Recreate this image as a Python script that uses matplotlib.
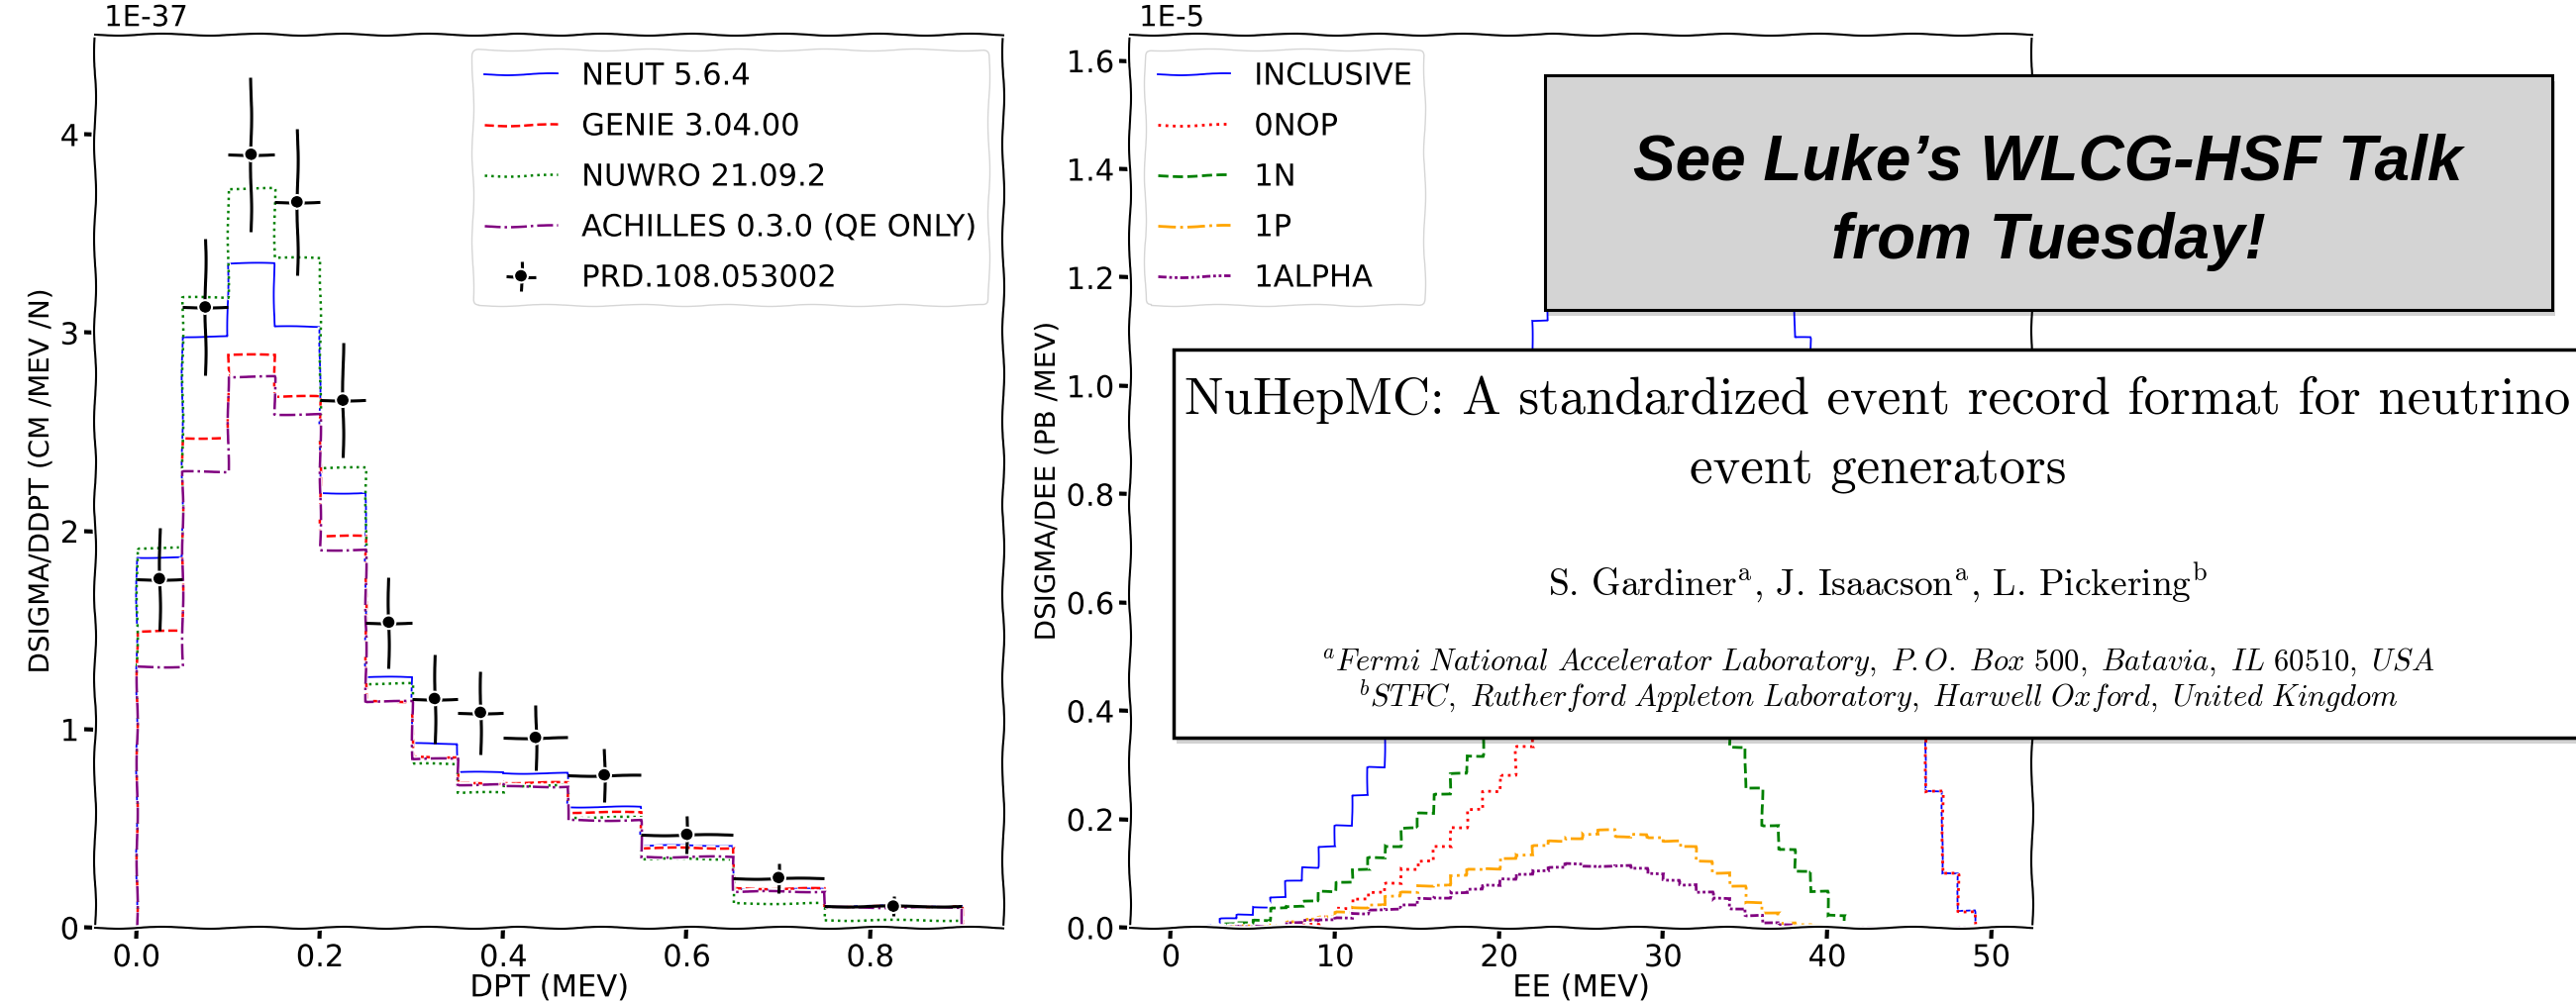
import numpy as np
import matplotlib
matplotlib.use("Agg")
import matplotlib.pyplot as plt
from matplotlib.patches import Rectangle

# ---------------- left panel: dpT ----------------
dpt_edges = [0.0, 0.05, 0.10, 0.15, 0.20, 0.25, 0.30, 0.35, 0.40, 0.47, 0.55, 0.65, 0.75, 0.90]
neut = [1.87, 2.98, 3.35, 3.03, 2.19, 1.263, 0.93, 0.784, 0.777, 0.61, 0.412, 0.196, 0.108]
genie = [1.50, 2.47, 2.89, 2.68, 1.98, 1.146, 0.864, 0.73, 0.735, 0.585, 0.404, 0.20, 0.108]
nuwro = [1.92, 3.18, 3.73, 3.38, 2.32, 1.233, 0.83, 0.686, 0.72, 0.56, 0.349, 0.125, 0.038]
achilles = [1.32, 2.30, 2.78, 2.59, 1.91, 1.146, 0.855, 0.725, 0.715, 0.543, 0.362, 0.183, 0.105]
data_y = [1.76, 3.13, 3.90, 3.66, 2.66, 1.54, 1.155, 1.085, 0.959, 0.77, 0.47, 0.252, 0.108]
data_err = [0.26, 0.345, 0.39, 0.37, 0.29, 0.23, 0.225, 0.21, 0.165, 0.135, 0.095, 0.075, 0.05]
left_labels = ["NEUT 5.6.4", "GENIE 3.04.00", "NUWRO 21.09.2",
               "ACHILLES 0.3.0 (QE ONLY)", "PRD.108.053002"]

# ---------------- right panel: Ee, 1 MeV bins from 0 to 50 ----------------
ee_edges = np.arange(0, 51)
inclusive = [0, 0, 0.005, 0.016, 0.024, 0.038, 0.057, 0.086, 0.112, 0.150,
             0.188, 0.244, 0.296, 0.36, 0.43, 0.50, 0.57, 0.67, 0.76, 0.86,
             0.97, 1.04, 1.12, 1.26, 1.35, 1.41, 1.48, 1.52, 1.55, 1.56,
             1.57, 1.50, 1.46, 1.42, 1.36, 1.30, 1.22, 1.16, 1.09, 1.03,
             0.96, 0.90, 0.89, 0.83, 0.73, 0.56, 0.252, 0.101, 0.0315, 0]
onop = [0, 0, 0, 0, 0, 0, 0, 0.003, 0.008, 0.020,
        0.037, 0.054, 0.066, 0.083, 0.110, 0.124, 0.150, 0.186, 0.220, 0.252,
        0.283, 0.334, 0.39, 0.44, 0.49, 0.54, 0.59, 0.64, 0.69, 0.74,
        0.79, 0.83, 0.87, 0.90, 0.92, 0.93, 0.94, 0.94, 0.93, 0.93,
        0.92, 0.90, 0.87, 0.82, 0.72, 0.55, 0.252, 0.101, 0.0315, 0]
one_n = [0, 0, 0.003, 0.008, 0.009, 0.015, 0.038, 0.040, 0.050, 0.068,
         0.085, 0.107, 0.130, 0.152, 0.185, 0.212, 0.248, 0.286, 0.318, 0.36,
         0.40, 0.43, 0.46, 0.49, 0.51, 0.52, 0.53, 0.53, 0.52, 0.50,
         0.48, 0.45, 0.42, 0.38, 0.334, 0.257, 0.19, 0.145, 0.106, 0.068,
         0.0235, 0, 0, 0, 0, 0, 0, 0, 0, 0]
one_p = [0, 0, 0.001, 0.002, 0.003, 0.004, 0.006, 0.012, 0.016, 0.021,
         0.030, 0.038, 0.043, 0.058, 0.066, 0.079, 0.081, 0.097, 0.108, 0.110,
         0.129, 0.136, 0.152, 0.160, 0.167, 0.174, 0.181, 0.168, 0.174, 0.168,
         0.161, 0.149, 0.125, 0.103, 0.076, 0.048, 0.029, 0.009, 0.005, 0.004,
         0, 0, 0, 0, 0, 0, 0, 0, 0, 0]
one_alpha = [0, 0, 0.001, 0.002, 0.002, 0.003, 0.004, 0.011, 0.014, 0.015,
             0.019, 0.028, 0.034, 0.035, 0.042, 0.055, 0.057, 0.066, 0.072, 0.078,
             0.092, 0.101, 0.106, 0.112, 0.119, 0.115, 0.116, 0.115, 0.110, 0.100,
             0.090, 0.080, 0.066, 0.054, 0.037, 0.023, 0.009, 0.005, 0, 0,
             0, 0, 0, 0, 0, 0, 0, 0, 0, 0]
right_labels = ["INCLUSIVE", "0NOP", "1N", "1P", "1ALPHA"]

# ---------------- overlay slide text ----------------
banner_lines = ["See Luke\u2019s WLCG-HSF Talk", "from Tuesday!"]
paper_title = ["NuHepMC: A standardized event record format for neutrino", "event generators"]
paper_authors = r"S. Gardiner$^{\rm a}$, J. Isaacson$^{\rm a}$, L. Pickering$^{\rm b}$"
paper_affils = [
    r"$^{a}\mathit{Fermi\ National\ Accelerator\ Laboratory,\ P.O.\ Box\ 500,\ Batavia,\ IL\ 60510,\ USA}$",
    r"$^{b}\mathit{STFC,\ Rutherford\ Appleton\ Laboratory,\ Harwell\ Oxford,\ United\ Kingdom}$",
]

W, H = 2601, 1014
soft = (0.6, 100, 2)  # gentler wiggle for the data lines

with plt.xkcd():
    plt.rcParams['font.family'] = ['DejaVu Sans']
    plt.rcParams['mathtext.fontset'] = 'cm'
    fig = plt.figure(figsize=(W / 100, H / 100), dpi=100)

    # ---- left
    ax1 = fig.add_axes([96 / W, 77 / H, 917 / W, 902 / H])
    hists = [
        ax1.stairs(neut, dpt_edges, color='blue', lw=1.3, label=left_labels[0]),
        ax1.stairs(genie, dpt_edges, color='red', ls='--', lw=1.8, label=left_labels[1]),
        ax1.stairs(nuwro, dpt_edges, color='green', ls=':', lw=1.8, label=left_labels[2]),
        ax1.stairs(achilles, dpt_edges, color='purple', ls='-.', lw=1.8, label=left_labels[3]),
    ]
    e = np.array(dpt_edges)
    eb = ax1.errorbar(0.5 * (e[:-1] + e[1:]), data_y, xerr=0.5 * np.diff(e), yerr=data_err,
                      fmt='o', color='black', ms=7, lw=2.2, capsize=0, label=left_labels[4])
    hists += list(eb[2])
    ax1.set_xlabel("DPT (MEV)", fontsize=22, labelpad=1)
    ax1.set_ylabel("DSIGMA/DDPT (CM /MEV /N)", fontsize=20)
    ax1.tick_params(labelsize=22)
    ax1.text(0.01, 1.003, "1E-37", transform=ax1.transAxes, fontsize=21, va='bottom')
    ax1.legend(loc='upper right', fontsize=22, handlelength=2.4, labelspacing=0.72)

    # ---- right
    ax2 = fig.add_axes([1141 / W, 77 / H, 911 / W, 902 / H])
    hists += [
        ax2.stairs(inclusive, ee_edges, color='blue', lw=1.3, label=right_labels[0]),
        ax2.stairs(onop, ee_edges, color='red', ls=':', lw=2, label=right_labels[1]),
        ax2.stairs(one_n, ee_edges, color='green', ls='--', lw=2, label=right_labels[2]),
        ax2.stairs(one_p, ee_edges, color='orange', ls='-.', lw=2, label=right_labels[3]),
        ax2.stairs(one_alpha, ee_edges, color='purple', ls=(0, (3, 1, 1, 1, 1, 1)), lw=2,
                   label=right_labels[4]),
    ]
    for art in hists:
        art.set_sketch_params(*soft)
    ax2.set_xlabel("EE (MEV)", fontsize=22, labelpad=1)
    ax2.set_ylabel("DSIGMA/DEE (PB /MEV)", fontsize=20)
    ax2.tick_params(labelsize=22)
    ax2.text(0.01, 1.003, "1E-5", transform=ax2.transAxes, fontsize=21, va='bottom')
    ax2.legend(loc='upper left', fontsize=22, handlelength=2.4, labelspacing=0.72)

    # ---- overlay boxes (crisp, no sketch)
    def box(x0, y0, x1, y1, fc, lw):
        fig.add_artist(Rectangle((x0 / W + 3 / W, 1 - (y1 + 6) / H), (x1 - x0) / W, (y1 - y0) / H,
                                 transform=fig.transFigure, fc='black', ec='none', alpha=0.18,
                                 zorder=9, sketch_params=None, path_effects=[]))
        fig.add_artist(Rectangle((x0 / W, 1 - y1 / H), (x1 - x0) / W, (y1 - y0) / H,
                                 transform=fig.transFigure, fc=fc, ec='black', lw=lw,
                                 zorder=10, sketch_params=None, path_effects=[]))

    box(1560, 76, 2577, 313, '#d4d4d4', 2.2)
    for s, yb in zip(banner_lines, [181, 261]):
        fig.text(2068 / W, 1 - yb / H, s, ha='center', va='baseline', fontsize=46,
                 family='Liberation Sans', weight='bold', style='italic',
                 zorder=11, path_effects=[])

    box(1185, 353, 2640, 745, 'white', 2.5)
    cx = 1896 / W
    for s, yb in zip(paper_title, [418, 487]):
        fig.text(cx, 1 - yb / H, s, ha='center', va='baseline', fontsize=38,
                 family='cmr10', zorder=11, path_effects=[])
    fig.text(cx, 1 - 601 / H, paper_authors, ha='center', va='baseline', fontsize=27,
             family='cmr10', zorder=11, path_effects=[])
    for s, yb in zip(paper_affils, [677, 713]):
        fig.text(cx, 1 - yb / H, s, ha='center', va='baseline', fontsize=22,
                 family='cmr10', zorder=11, path_effects=[])

    fig.savefig("out.png", dpi=100)
